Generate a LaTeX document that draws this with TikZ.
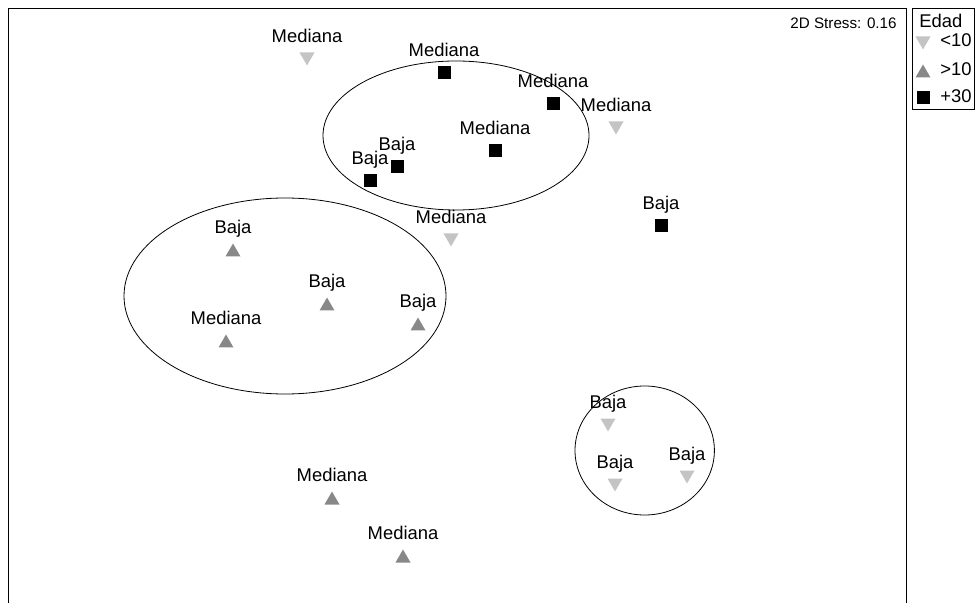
\documentclass[tikz,border=0pt]{standalone}
\usepackage{fontspec}
\setmainfont{Liberation Sans}
\definecolor{lightmk}{RGB}{196,196,196}
\definecolor{darkmk}{RGB}{136,136,136}
\tikzset{
	dn/.style={rectangle, inner sep=0, minimum width=7.5pt, minimum height=6.5pt,
		path picture={\fill[lightmk] (path picture bounding box.north west) -- (path picture bounding box.north east) -- (path picture bounding box.south) -- cycle;}},
	up/.style={rectangle, inner sep=0, minimum width=7.5pt, minimum height=6.5pt,
		path picture={\fill[darkmk] (path picture bounding box.south west) -- (path picture bounding box.south east) -- (path picture bounding box.north) -- cycle;}},
	sq/.style={rectangle, inner sep=0, minimum size=6.5pt, fill=black},
	lbl/.style={font=\fontsize{9.2}{11}\selectfont, inner sep=0, text height=6.6pt, text depth=1.9pt},
	group/.style={line width=0.4pt}
}
\begin{document}
\begin{tikzpicture}[x=0.5pt,y=-0.5pt,label distance=2.8pt]
	\useasboundingbox (0,0) rectangle (977,603);
	\draw[line width=0.5pt] (8,606) -- (8,9) -- (906,9) -- (906,606);
	\node[lbl,font=\fontsize{7.6}{9}\selectfont,anchor=base east] 
		  (stress) at (897,28.7) {2D Stress: 0.16};

	% legend
	\draw[line width=0.5pt] (912,9) rectangle (974,110);
	\node[lbl,anchor=base west] (edad) at (919,27.3) {Edad};
	\node[dn] (keylo) at (923,43) {};
	\node[lbl,anchor=base west] (keylotxt) at (940,46.5) {<10};
	\node[up] (keyhi) at (923,71) {};
	\node[lbl,anchor=base west] (keyhitxt) at (940,75.5) {>10};
	\node[sq] (keysq) at (923,98) {};
	\node[lbl,anchor=base west] (keysqtxt) at (940,103) {+30};

	% groups
	\draw[group] (456,135.5) ellipse [x radius=66.5pt, y radius=37.25pt];
	\draw[group] (285,296) ellipse [x radius=80.5pt, y radius=49pt];
	\draw[group] (644.7,450.5) ellipse [x radius=34.85pt, y radius=32.25pt];

	% <10
	\node[dn,label={[lbl]90:Mediana}] (lo1) at (307,59) {};
	\node[dn,label={[lbl]90:Mediana}] (lo2) at (616,128) {};
	\node[dn,label={[lbl]90:Mediana}] (lo3) at (451,240) {};
	\node[dn,label={[lbl]90:Baja}] (lo4) at (608,425) {};
	\node[dn,label={[lbl]90:Baja}] (lo5) at (615,485) {};
	\node[dn,label={[lbl]90:Baja}] (lo6) at (687,477) {};

	% >10
	\node[up,label={[lbl]90:Baja}] (hi1) at (233,250) {};
	\node[up,label={[lbl]90:Baja}] (hi2) at (327,304) {};
	\node[up,label={[lbl]90:Baja}] (hi3) at (418,324) {};
	\node[up,label={[lbl]90:Mediana}] (hi4) at (226,341) {};
	\node[up,label={[lbl]90:Mediana}] (hi5) at (332,498) {};
	\node[up,label={[lbl]90:Mediana}] (hi6) at (403,556) {};

	% +30
	\node[sq,label={[lbl]90:Mediana}] (sq1) at (444,73) {};
	\node[sq,label={[lbl]90:Mediana}] (sq2) at (553,104) {};
	\node[sq,label={[lbl]90:Mediana}] (sq3) at (495,151) {};
	\node[sq,label={[lbl]90:Baja}] (sq4) at (397,167) {};
	\node[sq,label={[lbl]90:Baja}] (sq5) at (370,181) {};
	\node[sq,label={[lbl]90:Baja}] (sq6) at (661,226) {};
\end{tikzpicture}
\end{document}
